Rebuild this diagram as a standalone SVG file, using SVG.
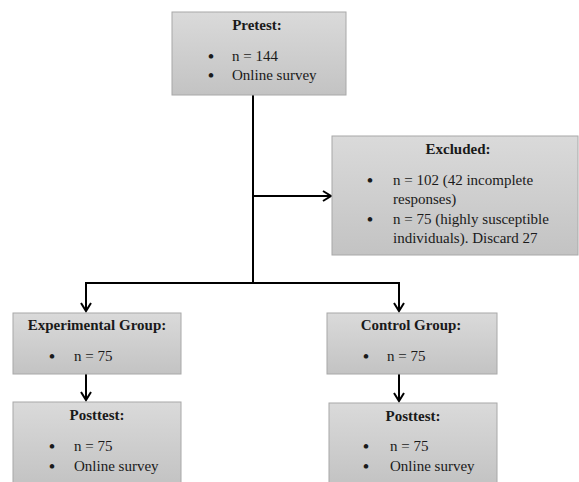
<svg xmlns="http://www.w3.org/2000/svg" width="579" height="482" viewBox="0 0 579 482" font-family="'Liberation Serif', 'Times New Roman', serif">
<defs>
<linearGradient id="g" x1="0" y1="0" x2="0" y2="1">
<stop offset="0" stop-color="#dadada"/>
<stop offset="1" stop-color="#c3c3c3"/>
</linearGradient>
<marker id="ah" markerWidth="12" markerHeight="12" refX="10" refY="6" orient="auto" markerUnits="userSpaceOnUse">
<path d="M2,1 L10,6 L2,11" fill="none" stroke="#000" stroke-width="2"/>
</marker>
<style>
.box{fill:url(#g);stroke:#a8a8a8;stroke-width:1}
text{font-family:'Liberation Serif','Times New Roman',serif;font-size:15px;fill:#1a1a1a}
.h{font-weight:bold;text-anchor:middle}
.b{font-size:17px;text-anchor:middle;font-weight:bold}
.c{fill:none;stroke:#000;stroke-width:2}
</style>
</defs>
<rect width="579" height="482" fill="#fff"/>
<g id="connectors">
<line class="c" x1="253" y1="95" x2="253" y2="283"/>
<line class="c" x1="253" y1="196" x2="331" y2="196" marker-end="url(#ah)"/>
<polyline class="c" points="86,310 86,283 399,283 399,310"/>
<line class="c" x1="86" y1="294" x2="86" y2="311" marker-end="url(#ah)"/>
<line class="c" x1="399" y1="294" x2="399" y2="311" marker-end="url(#ah)"/>
<line class="c" x1="86" y1="374" x2="86" y2="400" marker-end="url(#ah)"/>
<line class="c" x1="399" y1="374" x2="399" y2="401" marker-end="url(#ah)"/>
</g>
<g id="pretest">
<rect class="box" x="172" y="12" width="174" height="83"/>
<text class="h" x="257" y="30">Pretest:</text>
<text class="b" x="211" y="62">•</text><text x="232" y="61">n = 144</text>
<text class="b" x="211" y="81">•</text><text x="232" y="80">Online survey</text>
</g>
<g id="excluded">
<rect class="box" x="332" y="136" width="246" height="119"/>
<text class="h" x="458" y="154">Excluded:</text>
<text class="b" x="370" y="186">•</text><text x="393" y="185">n = 102 (42 incomplete</text>
<text x="393" y="204">responses)</text>
<text class="b" x="370" y="225">•</text><text x="393" y="224">n = 75 (highly susceptible</text>
<text x="393" y="243">individuals). Discard 27</text>
</g>
<g id="experimental">
<rect class="box" x="13" y="313" width="168" height="61"/>
<text class="h" x="97" y="330">Experimental Group:</text>
<text class="b" x="52" y="362">•</text><text x="74" y="361">n = 75</text>
</g>
<g id="control">
<rect class="box" x="327" y="313" width="170" height="61"/>
<text class="h" x="411" y="330">Control Group:</text>
<text class="b" x="366" y="362">•</text><text x="387" y="361">n = 75</text>
</g>
<g id="posttest-exp">
<rect class="box" x="13" y="402" width="168" height="82"/>
<text class="h" x="97" y="420">Posttest:</text>
<text class="b" x="52" y="452">•</text><text x="74" y="451">n = 75</text>
<text class="b" x="52" y="472">•</text><text x="74" y="471">Online survey</text>
</g>
<g id="posttest-ctrl">
<rect class="box" x="329" y="403" width="168" height="81"/>
<text class="h" x="413" y="421">Posttest:</text>
<text class="b" x="366" y="452">•</text><text x="390" y="451">n = 75</text>
<text class="b" x="366" y="472">•</text><text x="390" y="471">Online survey</text>
</g>
</svg>
